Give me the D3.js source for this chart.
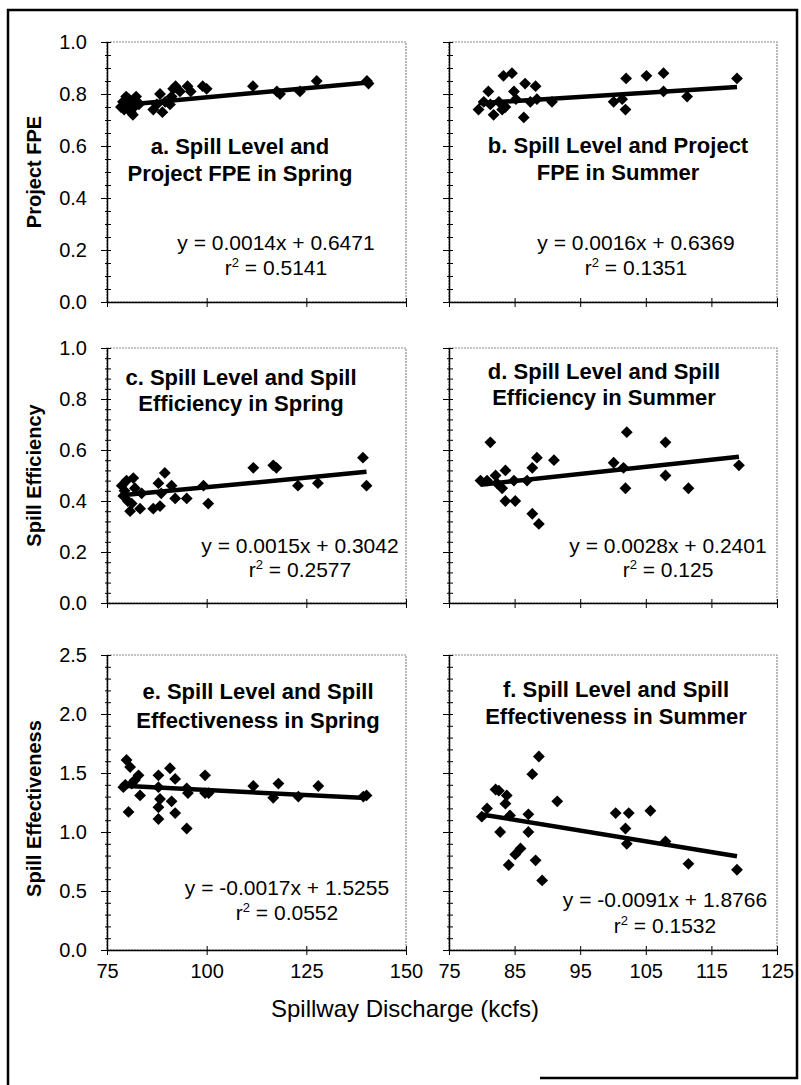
<!DOCTYPE html>
<html><head><meta charset="utf-8">
<script src="https://cdn.jsdelivr.net/npm/d3@7"></script>
<style>body{margin:0;background:#fff}svg{display:block}text{font-family:"Liberation Sans",Arial,sans-serif;fill:#000}</style>
</head><body><svg id="c" width="801" height="1085"></svg>
<script>
// ---------- DATA ----------
const fpeSpring = [[78.5,0.75],[79.0,0.77],[79.3,0.74],[79.8,0.79],[80.2,0.76],[80.5,0.78],[81.0,0.73],[81.5,0.72],[81.8,0.75],[82.3,0.79],[82.6,0.77],[83.0,0.76],[86.6,0.74],[87.5,0.76],[88.3,0.80],[88.9,0.73],[89.6,0.77],[90.8,0.76],[91.2,0.79],[91.6,0.82],[92.2,0.83],[93.3,0.81],[95.2,0.83],[96.0,0.81],[99.0,0.83],[100.0,0.82],[111.6,0.83],[117.6,0.81],[118.4,0.80],[123.4,0.81],[127.6,0.85],[140.2,0.85],[140.6,0.84]];
const fpeSummer = [[79.5,0.74],[80.3,0.77],[81.0,0.81],[81.3,0.76],[81.8,0.72],[82.6,0.77],[83.1,0.74],[83.3,0.87],[83.6,0.75],[84.6,0.88],[84.9,0.81],[85.2,0.78],[86.4,0.71],[86.6,0.84],[87.4,0.77],[88.2,0.83],[88.4,0.78],[90.7,0.77],[100.1,0.77],[101.4,0.78],[101.9,0.74],[102.0,0.86],[105.1,0.87],[107.7,0.88],[107.7,0.81],[111.3,0.79],[118.9,0.86]];
const effSpring = [[78.7,0.46],[79.1,0.42],[79.4,0.44],[79.9,0.48],[80.2,0.40],[80.8,0.36],[81.2,0.39],[81.6,0.49],[82.0,0.45],[83.3,0.37],[83.7,0.43],[86.6,0.37],[87.9,0.47],[88.3,0.38],[88.6,0.43],[89.5,0.51],[91.2,0.46],[92.1,0.41],[95.0,0.41],[99.2,0.46],[100.4,0.39],[111.7,0.53],[116.7,0.54],[117.5,0.53],[122.9,0.46],[127.9,0.47],[139.2,0.57],[140.1,0.46]];
const effSummer = [[79.8,0.48],[80.8,0.48],[81.3,0.63],[82.1,0.50],[82.3,0.47],[83.1,0.45],[83.6,0.52],[83.6,0.40],[84.9,0.48],[85.1,0.40],[86.9,0.48],[87.7,0.53],[87.7,0.35],[88.4,0.57],[88.7,0.31],[91.0,0.56],[100.1,0.55],[101.6,0.53],[101.9,0.45],[102.1,0.67],[108.0,0.63],[108.0,0.50],[111.5,0.45],[119.2,0.54]];
const effectSpring = [[79.1,1.38],[79.6,1.40],[79.9,1.61],[80.4,1.17],[80.8,1.55],[81.2,1.41],[82.0,1.44],[82.9,1.48],[83.3,1.31],[87.9,1.48],[87.9,1.38],[88.3,1.28],[87.9,1.21],[87.9,1.11],[90.8,1.54],[92.1,1.45],[91.2,1.26],[92.1,1.16],[95.0,1.37],[95.0,1.03],[95.3,1.33],[99.6,1.48],[99.6,1.33],[100.5,1.33],[111.7,1.39],[116.7,1.29],[118.0,1.41],[123.0,1.30],[128.0,1.39],[139.3,1.30],[140.1,1.31]];
const effectSummer = [[80.0,1.13],[80.8,1.20],[82.1,1.36],[82.6,1.35],[82.8,1.00],[83.6,1.24],[83.8,1.31],[84.1,0.72],[84.3,1.14],[85.1,0.81],[85.9,0.86],[87.1,1.15],[87.1,1.00],[87.7,1.49],[88.2,0.76],[88.7,1.64],[89.2,0.59],[91.5,1.26],[100.4,1.16],[101.9,1.03],[102.1,0.90],[102.4,1.16],[105.7,1.18],[108.0,0.92],[111.5,0.73],[118.9,0.68]];

const slopes = [0.0014, 0.0016, 0.0015, 0.0028, -0.0017, -0.0091];
const intercepts = [0.6471, 0.6369, 0.3042, 0.2401, 1.5255, 1.8766];
const eqLabels = ["y = 0.0014x + 0.6471","y = 0.0016x + 0.6369","y = 0.0015x + 0.3042","y = 0.0028x + 0.2401","y = -0.0017x + 1.5255","y = -0.0091x + 1.8766"];
const r2Values = ["0.5141","0.1351","0.2577","0.125","0.0552","0.1532"];
const titles = [
  ["a. Spill Level and","Project FPE in Spring"],
  ["b. Spill Level and Project","FPE in Summer"],
  ["c. Spill Level and Spill","Efficiency in Spring"],
  ["d. Spill Level and Spill","Efficiency in Summer"],
  ["e. Spill Level and Spill","Effectiveness in Spring"],
  ["f. Spill Level and Spill","Effectiveness in Summer"]
];
const yTitles = ["Project FPE","Spill Efficiency","Spill Effectiveness"];
const yTicksFPE = [0,0.2,0.4,0.6,0.8,1.0];
const yTicksEff = [0,0.2,0.4,0.6,0.8,1.0];
const yTicksEffect = [0,0.5,1.0,1.5,2.0,2.5];
const xTicksLeft = [75,100,125,150];
const xTicksRight = [75,85,95,105,115,125];
const xTitle = "Spillway Discharge (kcfs)";

// ---------- LAYOUT ----------
const svg = d3.select('#c');
svg.append('rect').attr('width',801).attr('height',1085).attr('fill','#fff');
svg.append('path').attr('d','M8,1085 V10 H797 V1078 H540')
  .attr('fill','none').attr('stroke','#000').attr('stroke-width',2.5);

const cols = [
  {x0:107, x1:406, dom:[75,150], ticks:xTicksLeft},
  {x0:449, x1:777, dom:[75,125], ticks:xTicksRight}
];
const rows = [
  {y0:42,  y1:302, dom:[0,1],   ticks:yTicksFPE,    minor:0.05, fmt:d3.format('.1f')},
  {y0:348, y1:603, dom:[0,1],   ticks:yTicksEff,    minor:0.04, fmt:d3.format('.1f')},
  {y0:655, y1:950, dom:[0,2.5], ticks:yTicksEffect, minor:0.1,  fmt:d3.format('.1f')}
];
const panelData = [fpeSpring, fpeSummer, effSpring, effSummer, effectSpring, effectSummer];
const titlePos = [[240,154,181],[618,153,180],[241,385,411],[604,379,405],[258,699,728],[616,697,724]];
const eqPos = [[276,250,275],[636,250,275],[300,553,577],[668,553,577],[287,895,920],[665,907,933]];

const diamond = d3.symbol().type(d3.symbolSquare).size(70);

panelData.forEach((data, i) => {
  const col = cols[i % 2], row = rows[Math.floor(i / 2)];
  const x = d3.scaleLinear().domain(col.dom).range([col.x0, col.x1]);
  const y = d3.scaleLinear().domain(row.dom).range([row.y1, row.y0]);
  const g = svg.append('g');

  g.append('rect').attr('x', col.x0).attr('y', row.y0)
    .attr('width', col.x1 - col.x0).attr('height', row.y1 - row.y0)
    .attr('fill','none').attr('stroke','#8a8a8a').attr('stroke-width',1.2)
    .attr('stroke-dasharray','2,1');

  const minorVals = d3.range(row.dom[0], row.dom[1] + 1e-9, row.minor);
  const yMinor = g.append('g').attr('transform',`translate(${col.x0},0)`)
    .call(d3.axisRight(y).tickValues(minorVals).tickSize(4).tickFormat('').tickSizeOuter(0));
  yMinor.select('.domain').remove();
  const yMinorL = g.append('g').attr('transform',`translate(${col.x0},0)`)
    .call(d3.axisLeft(y).tickValues(minorVals).tickSize(2).tickFormat('').tickSizeOuter(0));
  yMinorL.select('.domain').remove();
  const yAx = g.append('g').attr('transform',`translate(${col.x0},0)`)
    .call(d3.axisLeft(y).tickValues(row.ticks).tickSize(6).tickSizeOuter(0)
      .tickPadding(14).tickFormat(i % 2 === 0 ? row.fmt : ''));
  yAx.select('.domain').attr('stroke-width',1.5);
  yAx.selectAll('text').attr('font-size',20).style('font-family','"Liberation Sans",Arial,sans-serif');
  const yMajR = g.append('g').attr('transform',`translate(${col.x0},0)`)
    .call(d3.axisRight(y).tickValues(row.ticks).tickSize(4).tickFormat('').tickSizeOuter(0));
  yMajR.select('.domain').remove();

  const bottom = Math.floor(i / 2) === 2;
  const xAx = g.append('g').attr('transform',`translate(0,${row.y1})`)
    .call(d3.axisBottom(x).tickValues(col.ticks).tickSize(5).tickSizeOuter(0)
      .tickPadding(9).tickFormat(bottom ? d3.format('d') : ''));
  xAx.select('.domain').attr('stroke-width',1.5);
  xAx.selectAll('text').attr('font-size',20).style('font-family','"Liberation Sans",Arial,sans-serif');
  const xIn = g.append('g').attr('transform',`translate(0,${row.y1})`)
    .call(d3.axisTop(x).tickValues(col.ticks).tickSize(4).tickFormat('').tickSizeOuter(0));
  xIn.select('.domain').remove();

  g.append('g').selectAll('path').data(data).join('path')
    .attr('d', diamond)
    .attr('transform', d => `translate(${x(d[0])},${y(d[1])}) rotate(45)`)
    .attr('fill','#000');

  const xr = d3.extent(data, d => d[0]);
  const line = d3.line().x(d => x(d)).y(d => y(slopes[i] * d + intercepts[i]));
  g.append('path').datum(xr).attr('d', line)
    .attr('fill','none').attr('stroke','#000').attr('stroke-width',4.5);

  const tp = titlePos[i];
  const t = g.append('text').attr('text-anchor','middle').attr('font-size',22).attr('font-weight','bold');
  t.append('tspan').attr('x', tp[0]).attr('y', tp[1]).text(titles[i][0]);
  t.append('tspan').attr('x', tp[0]).attr('y', tp[2]).text(titles[i][1]);

  const ep = eqPos[i];
  g.append('text').attr('x', ep[0]).attr('y', ep[1]).attr('text-anchor','middle')
    .attr('font-size',21).text(eqLabels[i]);
  const r = g.append('text').attr('x', ep[0]).attr('y', ep[2]).attr('text-anchor','middle').attr('font-size',21);
  r.append('tspan').text('r');
  r.append('tspan').attr('font-size',13).attr('dy',-8).text('2');
  r.append('tspan').attr('dy',8).text(' = ' + r2Values[i]);
});

rows.forEach((row, k) => {
  const cy = (row.y0 + row.y1) / 2;
  svg.append('text').attr('transform',`translate(41,${cy + (k === 2 ? 6 : 0)}) rotate(-90)`)
    .attr('text-anchor','middle').attr('font-size',20).attr('font-weight','bold')
    .text(yTitles[k]);
});
svg.append('text').attr('x',405).attr('y',1017).attr('text-anchor','middle')
  .attr('font-size',24).text(xTitle);
</script></body></html>
